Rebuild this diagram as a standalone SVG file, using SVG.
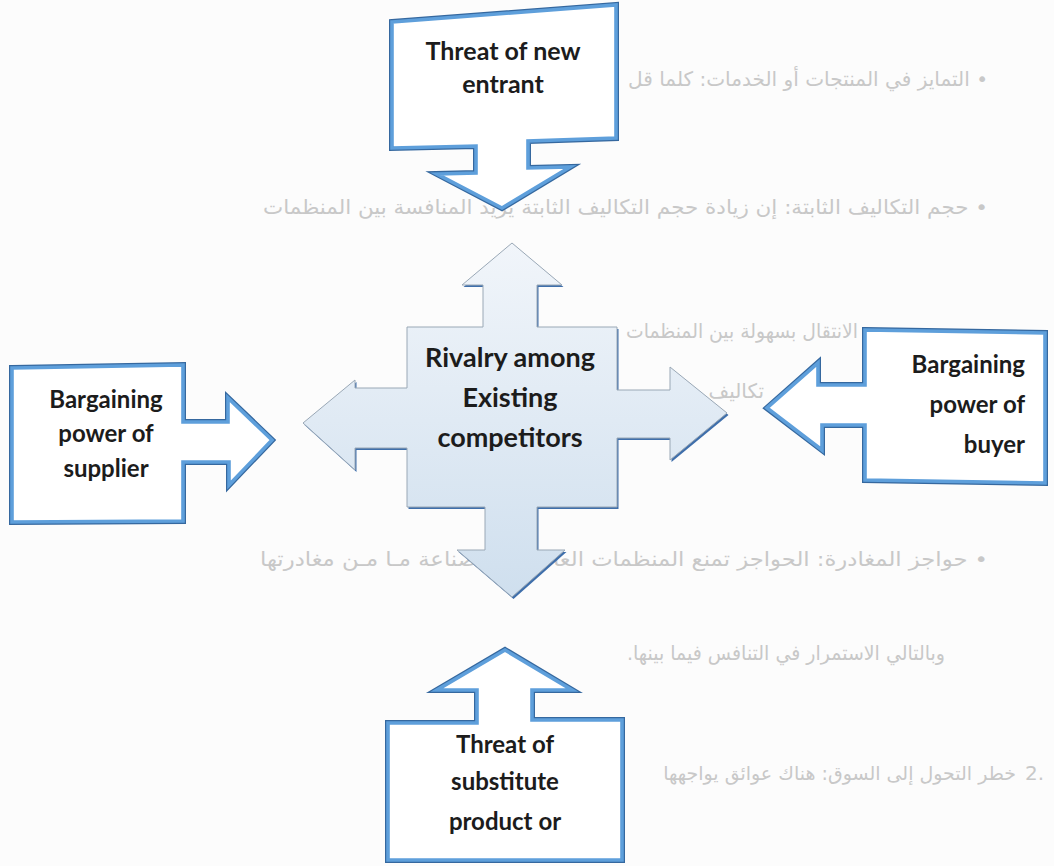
<svg xmlns="http://www.w3.org/2000/svg" width="1054" height="866" viewBox="0 0 1054 866">
<defs>
<style>
.ar{font-family:"DejaVu Sans",sans-serif;font-size:20px;fill:#c8c8c8;}
.lb{font-family:Lato,"Open Sans",sans-serif;font-weight:700;fill:#1c1c1c;}
.edge{fill:none;stroke:#35689f;stroke-width:6;stroke-linejoin:miter;}
.face{fill:#ffffff;stroke:#5e9fdb;stroke-width:3.6;stroke-linejoin:miter;}
</style>
<linearGradient id="cg" x1="0" y1="0" x2="0" y2="1">
<stop offset="0" stop-color="#f1f5fa"/>
<stop offset="1" stop-color="#cfdfee"/>
</linearGradient>
</defs>
<rect x="0" y="0" width="1054" height="866" fill="#fcfcfc"/>
<g id="background-text">
<text class="ar" x="988" y="86" direction="rtl" text-anchor="start" textLength="360" lengthAdjust="spacingAndGlyphs">• التمايز في المنتجات أو الخدمات: كلما قل</text>
<text class="ar" x="988" y="214" direction="rtl" text-anchor="start" textLength="725" lengthAdjust="spacingAndGlyphs">• حجم التكاليف الثابتة: إن زيادة حجم التكاليف الثابتة يزيد المنافسة بين المنظمات</text>
<text class="ar" x="858" y="338" direction="rtl" text-anchor="start" textLength="232" lengthAdjust="spacingAndGlyphs">الانتقال بسهولة بين المنظمات</text>
<text class="ar" x="764" y="398" direction="rtl" text-anchor="start">تكاليف</text>
<text class="ar" x="988" y="566" direction="rtl" text-anchor="start" textLength="728" lengthAdjust="spacingAndGlyphs">• حواجز المغادرة: الحواجز تمنع المنظمات العاملة في صناعة مـا مـن مغادرتها</text>
<text class="ar" x="945" y="660" direction="rtl" text-anchor="start" textLength="318" lengthAdjust="spacingAndGlyphs">وبالتالي الاستمرار في التنافس فيما بينها.</text>
<text class="ar" x="1044" y="780" text-anchor="end">2.</text>
<text class="ar" x="1016" y="780" text-anchor="end" style="font-size:19px">خطر التحول إلى السوق: هناك عوائق يواجهها</text>
</g>
<g id="connectors"></g>
<g id="center">
<polygon points="512,243 562,285 537,285 537,327 617,327 617,390 670,390 670,367 727,413 670,460 670,438 617,438 617,507 537,507 537,550 565,550 512,597 457,550 485,550 485,507 407,507 407,448 355,448 355,470 303,423 355,380 355,388 407,388 407,327 483,327 483,285 462,285" fill="#3f6fab" transform="translate(1.5,2)"/>
<polygon points="512,243 562,285 537,285 537,327 617,327 617,390 670,390 670,367 727,413 670,460 670,438 617,438 617,507 537,507 537,550 565,550 512,597 457,550 485,550 485,507 407,507 407,448 355,448 355,470 303,423 355,380 355,388 407,388 407,327 483,327 483,285 462,285" fill="url(#cg)" stroke="#9aa8b6" stroke-width="1"/>
<text class="lb" font-size="27" text-anchor="middle" x="510" y="367">Rivalry among</text>
<text class="lb" font-size="27" text-anchor="middle" x="510" y="407">Existing</text>
<text class="lb" font-size="27" text-anchor="middle" x="510" y="447">competitors</text>
</g>
<g id="new-entrant">
<polygon class="edge" points="392,22 616,5 616,138 528,141 528,168 570,167 502,208 437,174 476,173 476,146 392,148"/>
<polygon class="face" points="392,22 616,5 616,138 528,141 528,168 570,167 502,208 437,174 476,173 476,146 392,148"/>
<text class="lb" font-size="25" text-anchor="middle" x="503" y="60">Threat of new</text>
<text class="lb" font-size="25" text-anchor="middle" x="503" y="93">entrant</text>
</g>
<g id="supplier">
<polygon class="edge" points="12,368 183,365 183,422 228,422 228,398 272,440 229,485 229,462 183,462 183,521 12,522"/>
<polygon class="face" points="12,368 183,365 183,422 228,422 228,398 272,440 229,485 229,462 183,462 183,521 12,522"/>
<text class="lb" font-size="24" text-anchor="middle" x="106" y="408">Bargaining</text>
<text class="lb" font-size="24" text-anchor="middle" x="106" y="442">power of</text>
<text class="lb" font-size="24" text-anchor="middle" x="106" y="477">supplier</text>
</g>
<g id="buyer">
<polygon class="edge" points="865,330 1045,333 1045,483 865,480 865,425 822,425 822,450 767,408 818,363 818,385 865,385"/>
<polygon class="face" points="865,330 1045,333 1045,483 865,480 865,425 822,425 822,450 767,408 818,363 818,385 865,385"/>
<text class="lb" font-size="24" text-anchor="end" x="1025" y="373">Bargaining</text>
<text class="lb" font-size="24" text-anchor="end" x="1025" y="413">power of</text>
<text class="lb" font-size="24" text-anchor="end" x="1025" y="453">buyer</text>
</g>
<g id="substitute">
<polygon class="edge" points="505,650 572,690 532,690 532,720 622,720 622,860 388,860 388,723 477,723 477,690 437,690"/>
<polygon class="face" points="505,650 572,690 532,690 532,720 622,720 622,860 388,860 388,723 477,723 477,690 437,690"/>
<text class="lb" font-size="24" text-anchor="middle" x="505" y="753">Threat of</text>
<text class="lb" font-size="24" text-anchor="middle" x="505" y="790">substitute</text>
<text class="lb" font-size="24" text-anchor="middle" x="505" y="830">product or</text>
</g>
</svg>
